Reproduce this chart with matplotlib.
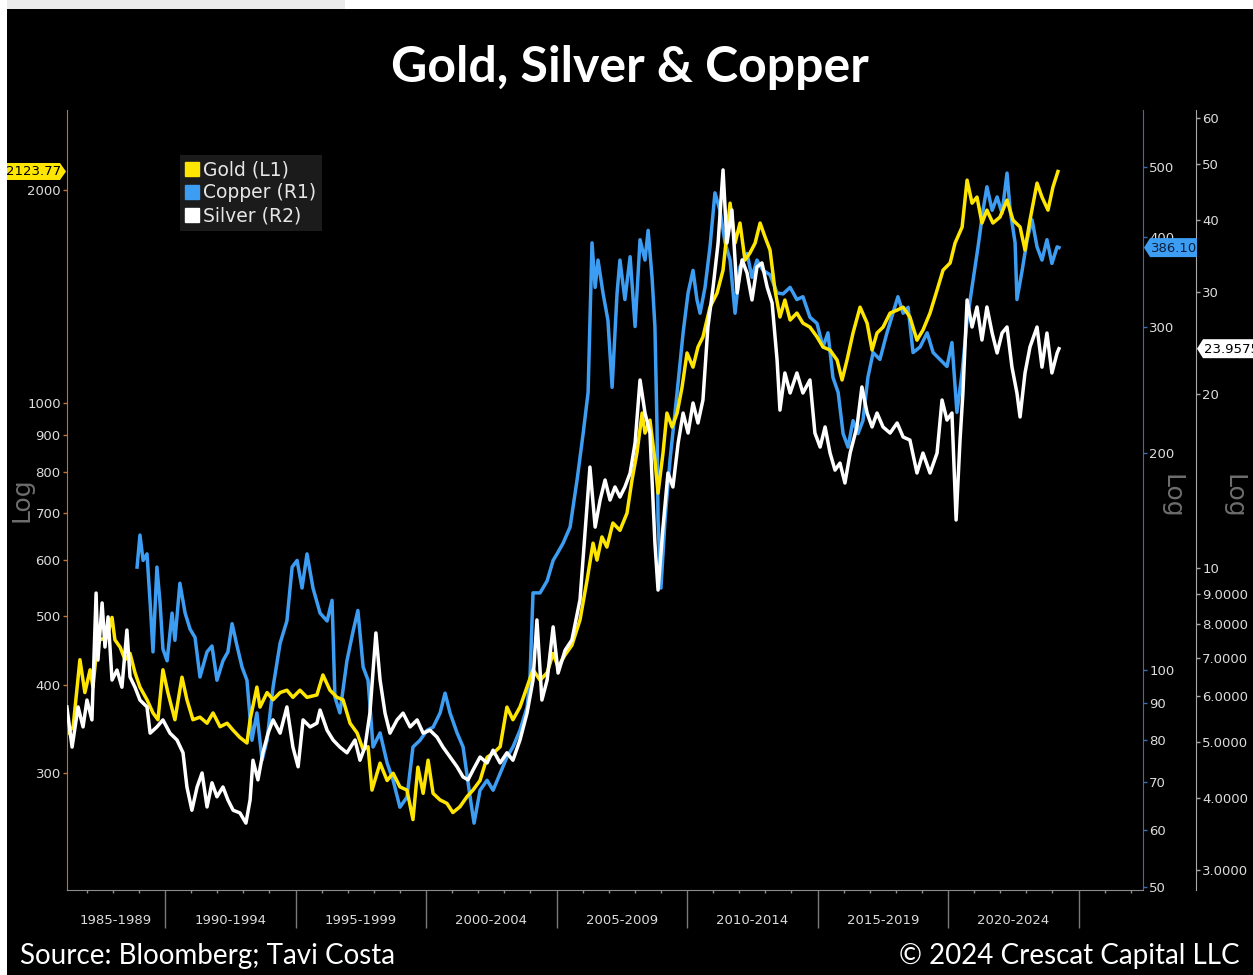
import numpy as np
import matplotlib
matplotlib.use("Agg")
import matplotlib.pyplot as plt
import matplotlib.ticker as mticker
from matplotlib.lines import Line2D
from matplotlib.patches import Rectangle, Polygon
from matplotlib.transforms import IdentityTransform

# ---- gold, USD/oz (left axis)
gold_year = [
    1986.28, 1986.48, 1986.74, 1986.93, 1987.13, 1987.24, 1987.39, 1987.51, 1987.78, 1987.97,
    1988.08, 1988.28, 1988.47, 1988.66, 1988.85, 1989.04, 1989.31, 1989.54, 1989.73, 1989.92,
    1990.11, 1990.38, 1990.65, 1990.84, 1991.07, 1991.34, 1991.61, 1991.84, 1992.11, 1992.38,
    1992.61, 1992.87, 1993.14, 1993.26, 1993.52, 1993.64, 1993.91, 1994.14, 1994.41, 1994.67,
    1994.90, 1995.17, 1995.44, 1995.82, 1996.05, 1996.32, 1996.59, 1996.82, 1997.09, 1997.36,
    1997.59, 1997.78, 1997.93, 1998.24, 1998.51, 1998.74, 1999.00, 1999.27, 1999.50, 1999.69,
    1999.89, 2000.08, 2000.27, 2000.54, 2000.80, 2001.03, 2001.30, 2001.57, 2001.80, 2002.07,
    2002.34, 2002.57, 2002.84, 2003.10, 2003.33, 2003.60, 2003.87, 2004.10, 2004.37, 2004.64,
    2004.87, 2005.06, 2005.33, 2005.59, 2005.90, 2006.17, 2006.40, 2006.55, 2006.74, 2006.93,
    2007.16, 2007.43, 2007.70, 2007.89, 2008.08, 2008.28, 2008.39, 2008.58, 2008.77, 2008.89,
    2009.08, 2009.23, 2009.43, 2009.62, 2009.81, 2010.00, 2010.23, 2010.42, 2010.61, 2010.88,
    2011.15, 2011.38, 2011.65, 2011.84, 2012.03, 2012.22, 2012.41, 2012.61, 2012.80, 2012.99,
    2013.18, 2013.37, 2013.56, 2013.75, 2013.95, 2014.21, 2014.44, 2014.71, 2014.98, 2015.21,
    2015.48, 2015.75, 2015.94, 2016.13, 2016.36, 2016.63, 2016.90, 2017.09, 2017.28, 2017.51,
    2017.78, 2018.05, 2018.28, 2018.54, 2018.81, 2019.04, 2019.31, 2019.58, 2019.81, 2020.08,
    2020.27, 2020.54, 2020.73, 2020.92, 2021.11, 2021.30, 2021.49, 2021.72, 2021.99, 2022.26,
    2022.49, 2022.76, 2022.95, 2023.14, 2023.41, 2023.60, 2023.83, 2024.02, 2024.21]
gold_usd = [
    342, 349, 434, 390, 420, 397, 452, 463, 467, 498,
    463, 452, 434, 443, 416, 397, 381, 365, 357, 420,
    390, 357, 410, 381, 357, 360, 353, 365, 349, 353,
    345, 337, 331, 357, 397, 372, 390, 381, 390, 393,
    384, 393, 384, 387, 413, 393, 384, 381, 353, 342,
    324, 327, 284, 310, 293, 300, 287, 284, 258, 306,
    281, 313, 281, 275, 272, 264, 269, 278, 284, 293,
    316, 320, 327, 372, 357, 372, 397, 420, 406, 416,
    443, 424, 441, 455, 494, 562, 634, 600, 647, 626,
    677, 661, 699, 778, 850, 968, 907, 946, 831, 746,
    850, 968, 925, 968, 1053, 1177, 1124, 1200, 1240, 1366,
    1430, 1541, 1916, 1683, 1796, 1592, 1629, 1683, 1796, 1716,
    1645, 1444, 1323, 1398, 1310, 1340, 1297, 1280, 1240, 1200,
    1188, 1150, 1078, 1150, 1256, 1366, 1297, 1188, 1256, 1280,
    1340, 1353, 1366, 1323, 1227, 1268, 1340, 1444, 1541, 1577,
    1683, 1773, 2065, 1916, 1954, 1796, 1873, 1796, 1831, 1935,
    1813, 1773, 1645, 1813, 2045, 1954, 1873, 2019, 2123.77]

# ---- copper, US cents/lb (first right axis)
copper_year = [
    1988.93, 1989.04, 1989.16, 1989.31, 1989.43, 1989.54, 1989.69, 1989.81, 1989.92, 1990.08,
    1990.27, 1990.38, 1990.57, 1990.77, 1990.96, 1991.15, 1991.34, 1991.61, 1991.80, 1991.99,
    1992.22, 1992.41, 1992.57, 1992.76, 1992.95, 1993.14, 1993.33, 1993.52, 1993.72, 1993.91,
    1994.14, 1994.41, 1994.67, 1994.87, 1995.06, 1995.25, 1995.44, 1995.67, 1995.94, 1996.21,
    1996.40, 1996.51, 1996.70, 1996.97, 1997.20, 1997.39, 1997.59, 1997.78, 1997.97, 1998.24,
    1998.51, 1998.74, 1999.00, 1999.27, 1999.50, 1999.77, 2000.04, 2000.27, 2000.54, 2000.73,
    2000.92, 2001.19, 2001.42, 2001.69, 2001.84, 2002.07, 2002.34, 2002.57, 2002.84, 2003.10,
    2003.33, 2003.60, 2003.87, 2003.98, 2004.10, 2004.37, 2004.64, 2004.87, 2005.02, 2005.25,
    2005.52, 2005.79, 2006.02, 2006.21, 2006.36, 2006.48, 2006.59, 2006.78, 2006.97, 2007.13,
    2007.32, 2007.43, 2007.62, 2007.82, 2008.01, 2008.20, 2008.39, 2008.51, 2008.66, 2008.77,
    2008.85, 2008.89, 2009.00, 2009.16, 2009.35, 2009.62, 2009.85, 2010.04, 2010.23, 2010.38,
    2010.50, 2010.69, 2010.88, 2011.07, 2011.26, 2011.46, 2011.65, 2011.84, 2012.03, 2012.30,
    2012.49, 2012.68, 2012.91, 2013.18, 2013.45, 2013.68, 2013.95, 2014.21, 2014.44, 2014.71,
    2014.98, 2015.21, 2015.40, 2015.59, 2015.79, 2015.98, 2016.17, 2016.36, 2016.55, 2016.74,
    2016.93, 2017.13, 2017.39, 2017.66, 2017.89, 2018.08, 2018.28, 2018.47, 2018.66, 2018.93,
    2019.20, 2019.43, 2019.69, 2019.96, 2020.15, 2020.34, 2020.54, 2020.73, 2020.96, 2021.15,
    2021.34, 2021.49, 2021.69, 2021.88, 2022.07, 2022.26, 2022.38, 2022.57, 2022.64, 2022.84,
    2023.03, 2023.22, 2023.41, 2023.60, 2023.79, 2023.98, 2024.18, 2024.25]
copper_cents = [
    139, 154, 142, 145, 124, 106, 139, 124, 107, 103,
    120, 110, 132, 120, 114, 111, 97.8, 106, 108, 96.8,
    103, 106, 116, 108, 101, 96.8, 79.9, 87.2, 75.0, 79.9,
    94.7, 109, 117, 139, 142, 130, 145, 130, 120, 117,
    125, 91.7, 87.2, 103, 113, 121, 101, 96.8, 78.2, 81.8,
    74.3, 70.3, 64.5, 66.6, 78.2, 79.9, 82.5, 83.3, 87.2, 92.9,
    87.2, 81.8, 78.2, 66.6, 61.3, 68.1, 70.3, 68.1, 71.9, 75.7,
    78.2, 82.5, 88.8, 96.8, 128, 128, 133, 142, 145, 150,
    158, 184, 213, 243, 392, 340, 371, 334, 306, 247,
    334, 371, 327, 375, 300, 396, 371, 408, 351, 300,
    218, 162, 130, 162, 196, 243, 294, 334, 359, 327,
    313, 340, 387, 460, 435, 392, 371, 313, 363, 379,
    351, 371, 359, 354, 334, 333, 340, 327, 330, 309,
    303, 281, 294, 255, 243, 213, 204, 222, 213, 222,
    255, 276, 270, 294, 313, 330, 313, 319, 276, 281,
    294, 276, 270, 264, 285, 228, 259, 306, 348, 387,
    435, 469, 435, 454, 431, 490, 435, 392, 327, 359,
    396, 422, 387, 371, 396, 367, 387, 386.10]

# ---- silver, USD/oz (second right axis)
silver_year = [
    1986.24, 1986.44, 1986.67, 1986.86, 1987.01, 1987.20, 1987.36, 1987.43, 1987.59, 1987.70,
    1987.82, 1987.97, 1988.16, 1988.35, 1988.54, 1988.66, 1988.85, 1989.04, 1989.31, 1989.43,
    1989.69, 1989.92, 1990.19, 1990.46, 1990.69, 1990.84, 1991.03, 1991.23, 1991.42, 1991.61,
    1991.80, 1991.99, 1992.22, 1992.41, 1992.61, 1992.87, 1993.10, 1993.26, 1993.37, 1993.56,
    1993.75, 1993.95, 1994.14, 1994.41, 1994.67, 1994.90, 1995.10, 1995.29, 1995.56, 1995.82,
    1995.94, 1996.21, 1996.44, 1996.70, 1996.97, 1997.28, 1997.47, 1997.66, 1997.85, 1998.08,
    1998.24, 1998.43, 1998.62, 1998.89, 1999.12, 1999.39, 1999.66, 1999.89, 2000.15, 2000.42,
    2000.65, 2000.92, 2001.19, 2001.42, 2001.61, 2001.80, 2002.07, 2002.34, 2002.57, 2002.84,
    2003.10, 2003.33, 2003.60, 2003.87, 2004.10, 2004.25, 2004.44, 2004.64, 2004.87, 2005.06,
    2005.33, 2005.59, 2005.90, 2006.28, 2006.48, 2006.67, 2006.86, 2007.05, 2007.24, 2007.43,
    2007.62, 2007.82, 2008.01, 2008.20, 2008.39, 2008.58, 2008.77, 2008.89, 2009.08, 2009.27,
    2009.46, 2009.66, 2009.85, 2010.04, 2010.23, 2010.42, 2010.61, 2010.80, 2011.00, 2011.19,
    2011.38, 2011.53, 2011.72, 2011.92, 2012.11, 2012.30, 2012.49, 2012.68, 2012.87, 2013.07,
    2013.26, 2013.45, 2013.56, 2013.75, 2013.95, 2014.21, 2014.44, 2014.71, 2014.90, 2015.10,
    2015.29, 2015.48, 2015.67, 2015.86, 2016.05, 2016.25, 2016.51, 2016.70, 2016.90, 2017.09,
    2017.28, 2017.51, 2017.78, 2018.05, 2018.28, 2018.54, 2018.81, 2019.04, 2019.31, 2019.58,
    2019.77, 2019.96, 2020.15, 2020.31, 2020.46, 2020.57, 2020.73, 2020.92, 2021.11, 2021.30,
    2021.49, 2021.69, 2021.88, 2022.07, 2022.26, 2022.45, 2022.64, 2022.76, 2022.95, 2023.14,
    2023.41, 2023.60, 2023.79, 2023.98, 2024.18, 2024.25]
silver_usd = [
    5.75, 4.90, 5.75, 5.31, 5.91, 5.46, 9.05, 6.93, 8.70, 7.30,
    8.23, 6.40, 6.66, 6.22, 7.81, 6.48, 6.22, 5.91, 5.75, 5.18,
    5.31, 5.46, 5.18, 5.04, 4.79, 4.18, 3.81, 4.18, 4.42, 3.86,
    4.25, 4.02, 4.18, 3.97, 3.81, 3.77, 3.62, 3.97, 4.65, 4.30,
    4.79, 5.18, 5.46, 5.18, 5.75, 4.90, 4.53, 5.46, 5.31, 5.39,
    5.68, 5.24, 5.04, 4.90, 4.79, 5.04, 4.65, 4.90, 5.61, 7.72,
    6.40, 5.61, 5.18, 5.46, 5.61, 5.31, 5.46, 5.18, 5.24, 5.10,
    4.90, 4.71, 4.53, 4.35, 4.30, 4.47, 4.71, 4.60, 4.84, 4.60,
    4.79, 4.65, 5.04, 5.61, 6.40, 8.13, 5.91, 6.40, 7.91, 6.58,
    7.21, 7.51, 8.81, 14.95, 11.77, 13.11, 14.20, 13.11, 13.81, 13.27,
    13.81, 14.60, 16.45, 21.15, 18.54, 17.12, 11.05, 9.16, 11.77, 14.60,
    13.81, 16.45, 18.54, 17.12, 19.30, 17.82, 19.53, 26.12, 30.63, 36.50,
    48.83, 36.50, 41.63, 29.91, 34.12, 32.39, 29.09, 33.18, 33.71, 30.63,
    28.74, 22.91, 18.76, 21.75, 20.08, 21.75, 20.08, 21.15, 17.12, 16.19,
    17.54, 15.81, 14.77, 15.19, 14.03, 15.81, 17.54, 20.57, 18.54, 17.54,
    18.54, 17.54, 17.12, 17.82, 16.85, 16.65, 14.60, 15.81, 14.60, 15.81,
    19.53, 18.03, 18.54, 12.11, 16.65, 20.08, 29.09, 26.12, 28.29, 24.80,
    28.29, 25.50, 23.55, 25.50, 26.12, 22.26, 20.08, 18.25, 21.75, 24.12,
    26.12, 22.26, 25.50, 21.75, 23.55, 23.9575]

period_start = [1985, 1990, 1995, 2000, 2005, 2010, 2015, 2020]
period_labels = ["1985-1989", "1990-1994", "1995-1999", "2000-2004",
                 "2005-2009", "2010-2014", "2015-2019", "2020-2024"]

gold_ticks = [300, 400, 500, 600, 700, 800, 900, 1000, 2000]
copper_ticks = [50, 60, 70, 80, 90, 100, 200, 300, 400, 500]
silver_ticks = [3, 4, 5, 6, 7, 8, 9, 10, 20, 30, 40, 50, 60]
silver_tick_labels = ["3.0000", "4.0000", "5.0000", "6.0000", "7.0000", "8.0000",
                      "9.0000", "10", "20", "30", "40", "50", "60"]

GOLD_C = "#ffe600"
COPPER_C = "#3d9df2"
SILVER_C = "#ffffff"
LABEL_C = "#dcdcdc"

W, H = 1253, 975
fig = plt.figure(figsize=(W / 100, H / 100), dpi=100, facecolor="white")
fig.add_artist(Rectangle((7 / W, 0), 1, (H - 9) / H, transform=fig.transFigure,
                         facecolor="black", edgecolor="none", zorder=-5))
fig.add_artist(Rectangle((7 / W, (H - 9) / H), 338 / W, 9 / H, transform=fig.transFigure,
                         facecolor="#ebebeb", edgecolor="none", zorder=-5))

ax = fig.add_axes([67 / W, 1 - 890 / H, 1076 / W, 780 / H])
ax2 = ax.twinx()
ax3 = ax.twinx()
# copper underneath gold, silver on top
ax2.set_zorder(1)
ax.set_zorder(2)
ax3.set_zorder(3)
for a in (ax, ax2, ax3):
    a.patch.set_visible(False)

LW = 2.5
ax.plot(gold_year, gold_usd, color=GOLD_C, lw=LW)
ax2.plot(copper_year, copper_cents, color=COPPER_C, lw=LW)
ax3.plot(silver_year, silver_usd, color=SILVER_C, lw=LW)

ax.set_xlim(1986.245, 2027.47)
for a, lim in ((ax, (205.2, 2594)), (ax2, (49.5, 599.5)), (ax3, (2.773, 62.0))):
    a.set_yscale("log")
    a.set_ylim(*lim)

ax.set_yticks(gold_ticks, [str(t) for t in gold_ticks])
ax2.set_yticks(copper_ticks, [str(t) for t in copper_ticks])
ax3.set_yticks(silver_ticks, silver_tick_labels)
for a in (ax, ax2, ax3):
    a.yaxis.set_minor_locator(mticker.NullLocator())

# spines
for s in ("top", "right"):
    ax.spines[s].set_visible(False)
ax.spines["left"].set_color("#b8743a")
ax.spines["bottom"].set_color("#8c8c8c")
for a in (ax2, ax3):
    for s in ("top", "left", "bottom"):
        a.spines[s].set_visible(False)
ax2.spines["right"].set_color("#3c6cae")
silver_spine = 1129 / 1076
ax3.spines["right"].set_position(("axes", silver_spine))
ax3.spines["right"].set_color("#a8a8a8")

for a, c in ((ax, "#b8743a"), (ax2, "#3c6cae"), (ax3, "#a8a8a8")):
    a.tick_params(axis="y", colors=c, labelcolor=LABEL_C, labelsize=9.5,
                  length=3, width=1, pad=1.5, direction="out")

# x axis: period separators, yearly minor ticks, period labels
ax.set_xticks(list(range(1990, 2026, 5)), [""] * 8)
ax.set_xticks(list(range(1987, 2028)), minor=True)
ax.tick_params(axis="x", which="major", length=27.5, width=1, color="#7a7a7a", direction="out")
ax.tick_params(axis="x", which="minor", length=2.5, width=1, color="#8c8c8c", direction="out")
x0 = ax.get_xlim()[0]
for start, lab in zip(period_start, period_labels):
    xc = (max(start, x0) + start + 5) / 2
    ax.text(xc, -0.0397, lab, transform=ax.get_xaxis_transform(), ha="center", va="center",
            color=LABEL_C, fontsize=9.5)

# "Log" scale captions
fig.text(22 / W, 1 - 500 / H, "Log", rotation=90, ha="center", va="center",
         color="#6e6e6e", fontsize=18)
for xp in (1172, 1234):
    fig.text(xp / W, 1 - 496 / H, "Log", rotation=270, ha="center", va="center",
             color="#6e6e6e", fontsize=18)


def value_tag(axis, value, tip_x, width, height, face, text, tcolor, point):
    y = axis.transData.transform((x0, value))[1]
    n = 6
    if point == "right":
        xs = [tip_x, tip_x - n, tip_x - width, tip_x - width, tip_x - n]
        tx = tip_x - n - (width - n) / 2
        ha = "center"
    else:
        xs = [tip_x, tip_x + n, tip_x + width, tip_x + width, tip_x + n]
        tx = tip_x + n + 1
        ha = "left"
    ys = [y, y + height / 2, y + height / 2, y - height / 2, y - height / 2]
    fig.add_artist(Polygon(np.column_stack([xs, ys]), closed=True, facecolor=face,
                           edgecolor="none", transform=IdentityTransform(), zorder=6))
    fig.text(tx, y - 0.5, text, transform=IdentityTransform(), ha=ha, va="center",
             color=tcolor, fontsize=9.5, zorder=7)


left_x = ax.transAxes.transform((0, 0))[0]
right_x = ax.transAxes.transform((1, 0))[0]
silver_x = ax.transAxes.transform((silver_spine, 0))[0]
value_tag(ax, gold_usd[-1], left_x - 1, 59, 17, GOLD_C, f"{gold_usd[-1]:.2f}", "black", "right")
value_tag(ax2, copper_cents[-1], right_x + 1, 53, 19, COPPER_C, f"{copper_cents[-1]:.2f}",
          "#0a1f3d", "left")
value_tag(ax3, silver_usd[-1], silver_x + 1, 64, 19, SILVER_C, f"{silver_usd[-1]:.4f}",
          "black", "left")

# legend
handles = [Line2D([0], [0], marker="s", ls="none", markersize=10.5, color=c)
           for c in (GOLD_C, COPPER_C, SILVER_C)]
fig.legend(handles, ["Gold (L1)", "Copper (R1)", "Silver (R2)"], loc="upper left",
           bbox_to_anchor=(180 / W, 1 - 155 / H), bbox_transform=fig.transFigure,
           frameon=True, fancybox=False, facecolor="#1b1b1b", edgecolor="none",
           framealpha=1, fontsize=13.5, labelcolor="#e6e6e6", handlelength=0.7,
           handletextpad=0.25, borderpad=0.3, labelspacing=0.2, borderaxespad=0)

fig.text(630 / W, 1 - 68 / H, "Gold, Silver & Copper", ha="center", va="center",
         color="white", fontsize=36, fontweight="bold", family="Lato")
fig.text(20 / W, 1 - 956 / H, "Source: Bloomberg; Tavi Costa", ha="left", va="center",
         color="white", fontsize=20, family="Lato")
fig.text(1240 / W, 1 - 956 / H, "\u00a9 2024 Crescat Capital LLC", ha="right", va="center",
         color="white", fontsize=20, family="Lato")

fig.savefig("out.png", dpi=100, facecolor=fig.get_facecolor())
